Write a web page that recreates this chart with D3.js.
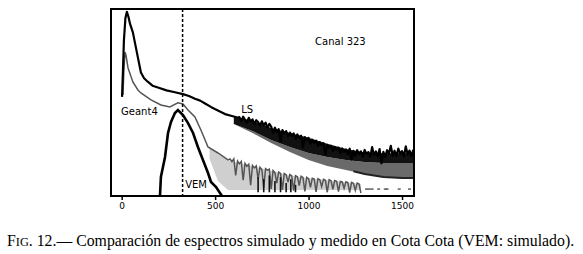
<!DOCTYPE html>
<html>
<head>
<meta charset="utf-8">
<script src="https://cdn.jsdelivr.net/npm/d3@7"></script>
<style>
  body { margin: 0; background: #fff; }
  svg { display: block; }
</style>
</head>
<body>
<div id="chart"></div>
<script>
// channel (x) and relative counts (y, arbitrary units 0-100)
const lsChannels = [2, 7, 12, 20, 28, 36, 45, 60, 75, 87, 103, 120, 141, 165, 194, 240, 285, 328, 360, 392, 420, 446, 480, 520, 553, 590, 620,
    630, 640, 650, 660, 670, 680, 690, 700, 710, 720, 730, 740, 750, 760, 770, 780, 790, 800, 810, 820, 830, 840, 850, 860,
    870, 880, 890, 900, 910, 920, 930, 940, 950, 960, 970, 980, 990, 1000, 1010, 1020, 1030, 1040, 1050, 1060, 1070, 1080,
    1090, 1100, 1110, 1120, 1130, 1140, 1150, 1160, 1170, 1180, 1190, 1200, 1210, 1220, 1230, 1240, 1250, 1260, 1270, 1280,
    1290, 1300, 1310, 1320, 1330, 1340, 1350, 1360, 1370, 1380, 1390, 1400, 1410, 1420, 1430, 1440, 1450, 1460, 1470, 1480,
    1490, 1500, 1510, 1520, 1530, 1540, 1550, 1560];
const lsCounts = [53, 67, 83, 95, 98.5, 96, 92, 87.5, 80, 74, 66, 63, 61, 59, 58, 56.5, 55.5, 54.5, 53.5, 52, 51, 49.5, 47.5, 45.5, 43.8, 42.8, 42.0,
    42.2, 39.9, 42.4, 40.7, 39.1, 41.8, 39.8, 41.0, 38.3, 40.5, 39.6, 37.5, 39.9, 37.8, 39.2, 36.6, 38.5, 37.1, 33.8, 36.5, 34.4, 35.7, 29.0, 35.2,
    33.5, 34.7, 31.8, 33.9, 32.2, 33.5, 30.5, 32.9, 31.2, 32.2, 26.0, 31.5, 30.0, 31.1, 28.0, 30.1, 28.4, 29.6, 26.7, 28.8, 27.2, 28.2,
    22.0, 27.4, 25.8, 26.9, 24.1, 26.2, 24.7, 25.9, 23.0, 25.4, 23.6, 24.9, 22.2, 25.3, 19.5, 24.1, 21.5, 24.5, 22.5, 23.8,
    21.2, 24.6, 22.5, 23.5, 21.0, 26.1, 21.9, 23.8, 21.2, 25.1, 17.5, 23.6, 20.9, 24.5, 22.7, 26.8, 21.5, 24.2, 21.4, 25.3,
    22.6, 24.0, 21.1, 26.5, 22.2, 24.3, 21.3, 24.7];

// spread of the noisy LS histogram: dark upper part and grey lower part
const lsBandChannels = [600, 700, 800, 900, 1000, 1100, 1200, 1300, 1400, 1500, 1564];
const lsBlackHigh = [42.5, 40.2, 36.4, 33.7, 31.1, 27.9, 25.2, 23.2, 22.8, 22.8, 22.8];
const lsBlackLow = [38.5, 34.8, 30, 26.2, 23, 20.9, 19.3, 18.2, 17.7, 17.7, 17.7];
const lsBandLow = [38.5, 33.7, 28.4, 23.5, 19.3, 16, 13.9, 11.8, 10.2, 9.6, 9.6];
const lsEdgeChannels = [1240, 1300, 1400, 1500, 1564];
const lsEdgeCounts = [13.2, 11.8, 10.2, 9.6, 9.6];

const geantChannels = [7, 12, 18, 23, 34, 60, 87, 103, 157, 210, 258, 301, 328, 355, 392, 424, 462, 515, 569,
    580, 590, 600, 610, 620, 630, 640, 650, 660, 670, 680, 690, 700, 710, 720, 730, 740, 750, 760, 770, 780, 790,
    800, 810, 820, 830, 840, 850, 860, 870, 880, 890, 900, 910, 920, 930, 940, 950, 960, 970, 980, 990,
    1000, 1010, 1020, 1030, 1040, 1050, 1060, 1070, 1080, 1090, 1100, 1110, 1120, 1130, 1140, 1150, 1160, 1170, 1180, 1190,
    1200, 1210, 1220, 1230, 1240, 1250, 1260, 1270, 1280];
const geantCounts = [54, 67.4, 77, 75.4, 68.5, 61, 56.7, 55.1, 51.4, 48.7, 47.6, 49.8, 49.2, 46, 42.3, 35.3, 26.2, 23, 19.3,
    19.8, 18.4, 19.9, 11.0, 18.7, 17.2, 18.5, 8.4, 17.4, 15.9, 17.0, 5.8, 16.3, 15.0, 16.1, 9.2, 15.4, 14.2, 4.5, 14.6, 13.8, 14.3,
    3.8, 13.6, 12.5, 6.9, 12.8, 12.1, 3.2, 12.0, 11.4, 7.4, 11.5, 10.8, 2.8, 10.9, 10.3, 5.5, 10.6, 9.9, 2.4, 10.0,
    9.3, 4.6, 9.5, 9.1, 2.2, 9.3, 8.7, 5.0, 8.9, 8.4, 2.0, 8.7, 8.2, 3.6, 8.3, 7.9, 2.3, 7.8, 7.5, 4.1,
    7.6, 7.2, 1.8, 7.3, 6.8, 3.0, 6.9, 6.4, 1.6];
// faint grey fill under the noisy Geant4 tail
const geantTailChannels = [470, 515, 569, 700, 800, 900, 1000, 1100, 1200, 1280];
const geantTailHigh = [25.5, 22.5, 19, 16, 13.5, 11, 9.5, 8.5, 7.4, 6.4];
const geantTailLow = [20, 8, 3.2, 3.2, 3.2, 3.2, 3.2, 3.2, 3.2, 3.2];
const geantDotChannels = [1310, 1325, 1340, 1375, 1410, 1420, 1485, 1540];
const geantDotCounts = [3.7, 3.7, 3.7, 3.7, 3.7, 3.7, 3.7, 3.7];
const spikeChannels = [730, 760, 790, 820, 850, 880, 905, 930];
const spikeCounts = [10, 9, 11, 8, 10, 7, 9, 6];

const vemChannels = [205, 210, 232, 248, 264, 285, 301, 328, 355, 382, 408, 435, 462, 478, 505, 526, 537];
const vemCounts = [0, 10.2, 20.9, 33.7, 39.6, 44.4, 46, 43.3, 39, 33.7, 26.2, 19.3, 12.3, 7.5, 4.8, 1.6, 0];

const vemLine = 326;
const xTicks = [0, 500, 1000, 1500];
const caption = "Comparación de espectros simulado y medido en Cota Cota (VEM: simulado).";

const margin = { top: 9, left: 111 };
const width = 303;
const height = 187;

const svg = d3.select("#chart")
    .append("svg")
    .attr("width", 583)
    .attr("height", 254);

const g = svg.append("g")
    .attr("transform", `translate(${margin.left}, ${margin.top})`);

const xScale = d3.scaleLinear().domain([-57, 1564]).range([0, width]);
const yScale = d3.scaleLinear().domain([0, 100]).range([height, 0]);

const line = d3.line()
    .x(d => xScale(d[0]))
    .y(d => yScale(d[1]));

const bandArea = d3.area()
    .x(d => xScale(d[0]))
    .y0(d => yScale(d[1]))
    .y1(d => yScale(d[2]));

// LS spread: grey lower part, dark upper part
g.append("path")
    .datum(lsBandChannels.map((c, i) => [c, lsBandLow[i], lsBlackLow[i]]))
    .attr("fill", "#6a6a6a")
    .attr("d", bandArea);
g.append("path")
    .datum(lsBandChannels.map((c, i) => [c, lsBlackLow[i], lsBlackHigh[i]]))
    .attr("fill", "#111")
    .attr("d", bandArea);
g.append("path")
    .datum(lsEdgeChannels.map((c, i) => [c, lsEdgeCounts[i]]))
    .attr("fill", "none")
    .attr("stroke", "#222")
    .attr("stroke-width", 2)
    .attr("d", line);

// Geant4
g.append("path")
    .datum(geantTailChannels.map((c, i) => [c, geantTailLow[i], geantTailHigh[i]]))
    .attr("fill", "#cfcfcf")
    .attr("d", bandArea);

g.append("path")
    .datum(geantChannels.map((c, i) => [c, geantCounts[i]]))
    .attr("fill", "none")
    .attr("stroke", "#555")
    .attr("stroke-width", 1.5)
    .attr("d", line);

g.selectAll(".spike")
    .data(spikeChannels.map((c, i) => [c, spikeCounts[i]]))
    .enter()
    .append("line")
    .attr("class", "spike")
    .attr("x1", d => xScale(d[0]))
    .attr("x2", d => xScale(d[0]))
    .attr("y1", yScale(2))
    .attr("y2", d => yScale(d[1]))
    .attr("stroke", "#111")
    .attr("stroke-width", 1.6);

g.selectAll(".dot")
    .data(geantDotChannels.map((c, i) => [c, geantDotCounts[i]]))
    .enter()
    .append("rect")
    .attr("class", "dot")
    .attr("x", d => xScale(d[0]) - 1.5)
    .attr("y", d => yScale(d[1]) - 0.7)
    .attr("width", 3)
    .attr("height", 1.4)
    .attr("fill", "#555");

// LS
g.append("path")
    .datum(lsChannels.map((c, i) => [c, lsCounts[i]]))
    .attr("fill", "none")
    .attr("stroke", "#000")
    .attr("stroke-width", 2.2)
    .attr("stroke-linejoin", "round")
    .attr("d", line);

// VEM
g.append("path")
    .datum(vemChannels.map((c, i) => [c, vemCounts[i]]))
    .attr("fill", "none")
    .attr("stroke", "#000")
    .attr("stroke-width", 2.6)
    .attr("d", line);

// dashed VEM position
g.append("line")
    .attr("x1", xScale(vemLine))
    .attr("x2", xScale(vemLine))
    .attr("y1", 0)
    .attr("y2", height)
    .attr("stroke", "#000")
    .attr("stroke-width", 1.5)
    .attr("stroke-dasharray", "3,2");

// frame
g.append("rect")
    .attr("width", width)
    .attr("height", height)
    .attr("fill", "none")
    .attr("stroke", "#000")
    .attr("stroke-width", 2);

const xAxis = d3.axisBottom(xScale).tickValues(xTicks).tickFormat(d3.format("d")).tickSize(4).tickPadding(3);
g.append("g")
    .attr("transform", `translate(0, ${height})`)
    .call(xAxis)
    .call(a => a.select(".domain").remove())
    .call(a => a.selectAll("line").attr("stroke-width", 1.5))
    .call(a => a.selectAll("text").attr("font-family", "DejaVu Sans").attr("font-size", 9).attr("fill", "#000"));

const labelFont = "DejaVu Sans";
g.append("text").attr("x", xScale(1035)).attr("y", yScale(80.5))
    .attr("font-family", labelFont).attr("font-size", 10).text("Canal 323");
g.append("text").attr("x", xScale(-3)).attr("y", yScale(43.5))
    .attr("font-family", labelFont).attr("font-size", 10).text("Geant4");
g.append("text").attr("x", xScale(640)).attr("y", yScale(44.5))
    .attr("font-family", labelFont).attr("font-size", 10).text("LS");
g.append("text").attr("x", xScale(340)).attr("y", yScale(4.5))
    .attr("font-family", labelFont).attr("font-size", 10).text("VEM");

const cap = svg.append("text")
    .attr("x", 7)
    .attr("y", 246)
    .attr("font-family", "Liberation Serif")
    .attr("font-size", 15.8)
    .attr("fill", "#000");
cap.append("tspan").text("F");
cap.append("tspan").attr("font-size", 12.3).text("IG");
cap.append("tspan").text(". 12.— " + caption);
</script>
</body>
</html>
